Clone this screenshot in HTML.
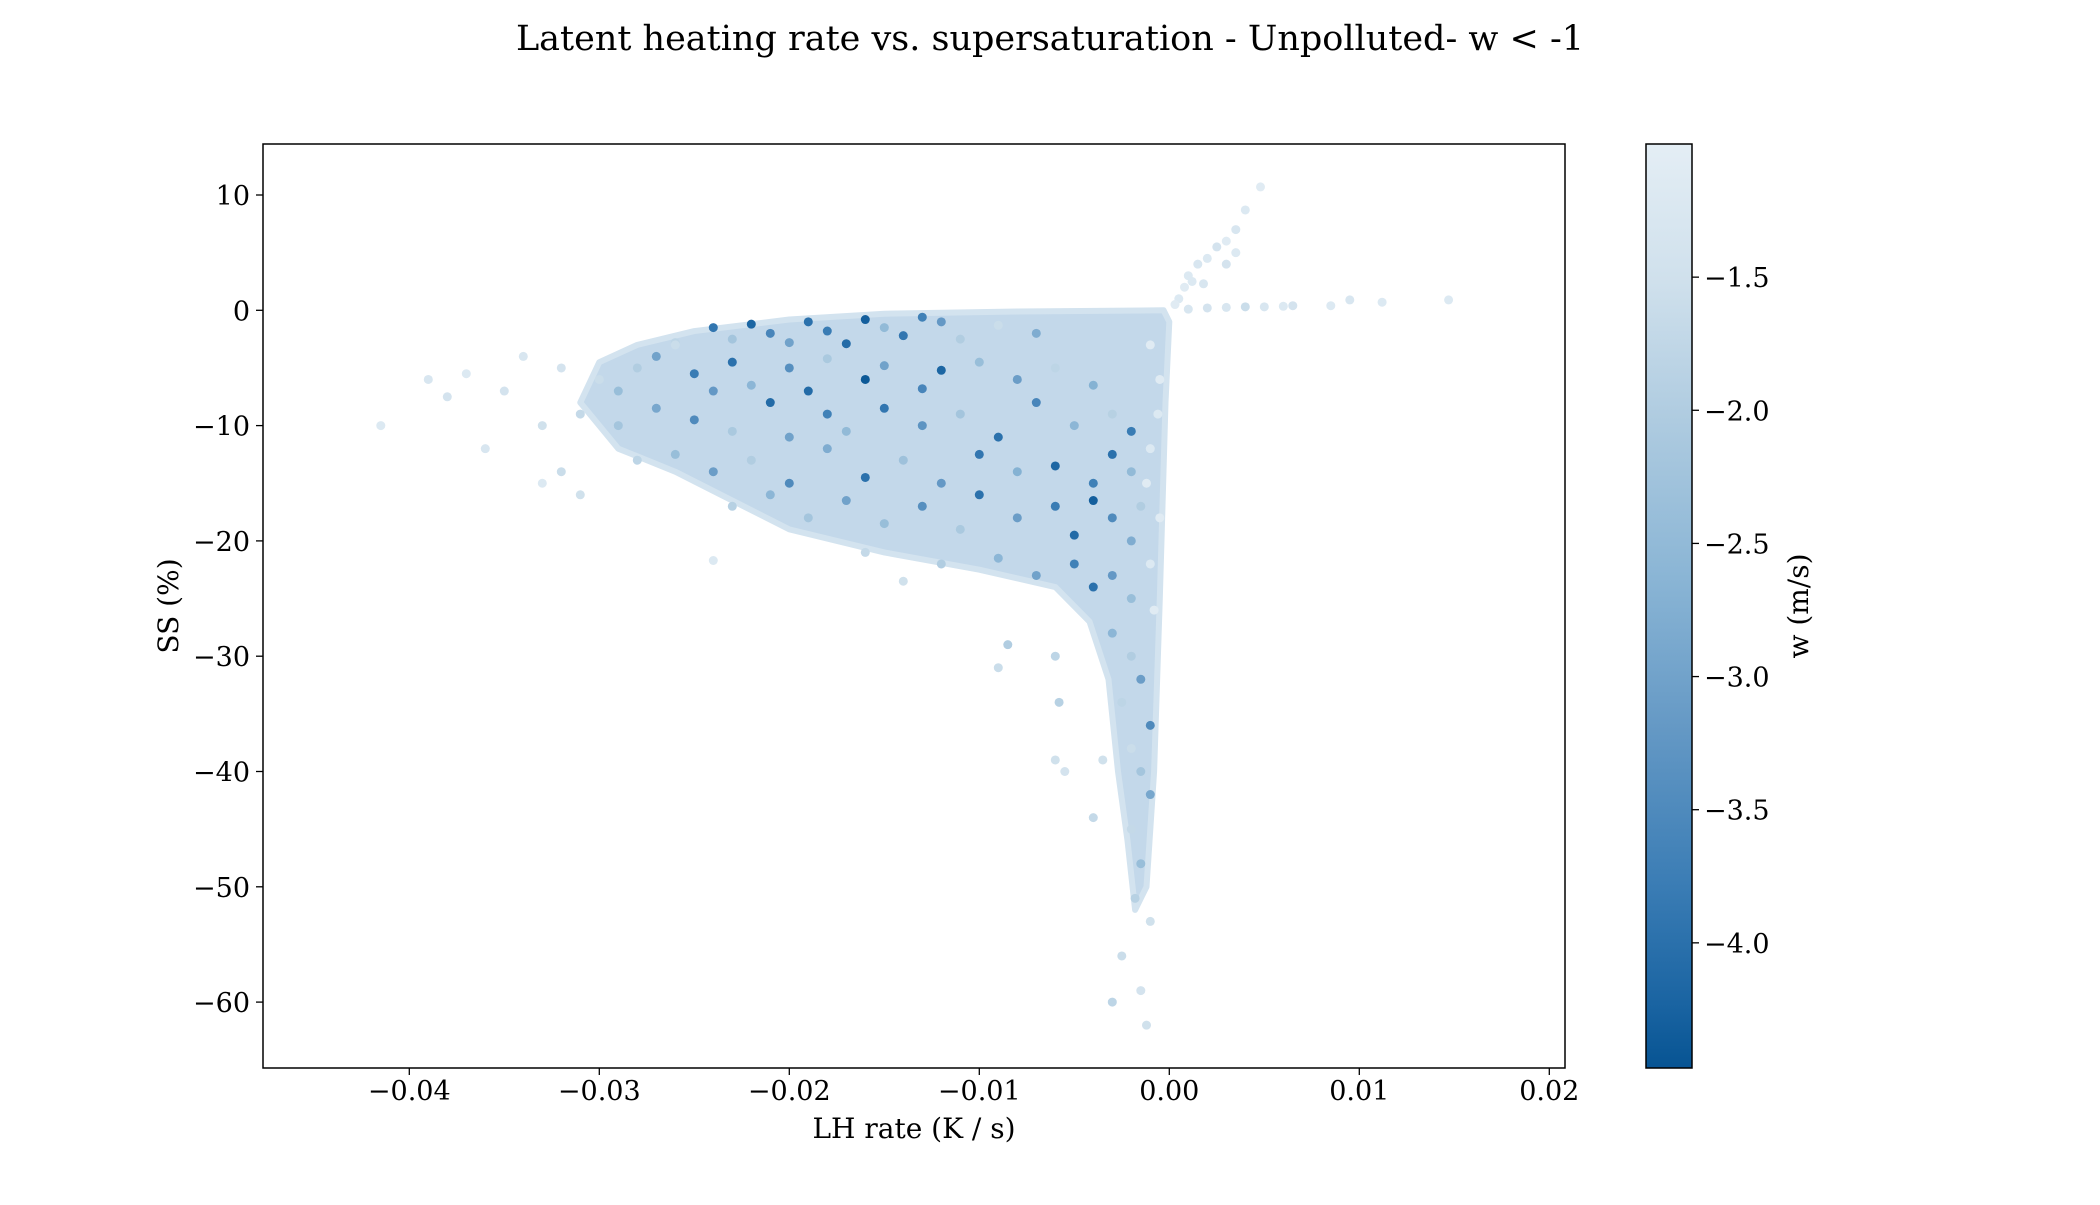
<!DOCTYPE html>
<html><head><meta charset="utf-8">
<style>
html,body{margin:0;padding:0;background:#fff;}
svg text{font-family:"DejaVu Serif","Liberation Serif",serif;fill:#000;}
</style></head>
<body>
<svg id="chart" width="2100" height="1200" viewBox="0 0 2100 1200" xmlns="http://www.w3.org/2000/svg">
<defs>
<linearGradient id="cmap" x1="0" y1="0" x2="0" y2="1">
<stop offset="0" stop-color="#e4eef5"/>
<stop offset="0.15" stop-color="#cfe0ec"/>
<stop offset="0.3" stop-color="#aecbe0"/>
<stop offset="0.47" stop-color="#8ab5d5"/>
<stop offset="0.63" stop-color="#6599c5"/>
<stop offset="0.8" stop-color="#3b7db5"/>
<stop offset="0.93" stop-color="#1a64a2"/>
<stop offset="1" stop-color="#075493"/>
</linearGradient>
<clipPath id="plotclip"><rect x="263" y="144" width="1302" height="924"/></clipPath>
</defs>
<text x="1050" y="50" font-size="35" text-anchor="middle">Latent heating rate vs. supersaturation - Unpolluted- w &lt; -1</text>
<g id="plot" clip-path="url(#plotclip)"></g>
<rect x="263" y="144" width="1302" height="924" fill="none" stroke="#000" stroke-width="1.5"/>
<g id="xticks"></g>
<g id="yticks"></g>
<text x="914" y="1138" font-size="28" text-anchor="middle">LH rate (K / s)</text>
<text transform="translate(178,606) rotate(-90)" font-size="28" text-anchor="middle">SS (%)</text>
<rect x="1646" y="144" width="46" height="924" fill="url(#cmap)" stroke="#000" stroke-width="1.5"/>
<g id="cticks"></g>
<text transform="translate(1808,606) rotate(-90)" font-size="28" text-anchor="middle">w (m/s)</text>
</svg>
<script>
const xTicks = [-0.04, -0.03, -0.02, -0.01, 0.00, 0.01, 0.02];
const xTickLabels = ["\u22120.04", "\u22120.03", "\u22120.02", "\u22120.01", "0.00", "0.01", "0.02"];
const yTicks = [10, 0, -10, -20, -30, -40, -50, -60];
const yTickLabels = ["10", "0", "\u221210", "\u221220", "\u221230", "\u221240", "\u221250", "\u221260"];
const cTicks = [-1.5, -2.0, -2.5, -3.0, -3.5, -4.0];
const cTickLabels = ["\u22121.5", "\u22122.0", "\u22122.5", "\u22123.0", "\u22123.5", "\u22124.0"];
const envelopeX = [-0.0003, -0.008, -0.015, -0.02, -0.025, -0.028, -0.030, -0.031, -0.029, -0.026, -0.023, -0.020, -0.015, -0.010, -0.006, -0.0042, -0.0032, -0.0027, -0.0022, -0.0018, -0.0012, -0.0008, -0.0005, -0.0002, 0.0];
const envelopeY = [0.0, -0.1, -0.3, -0.8, -1.8, -3.0, -4.5, -8.0, -12.0, -14.0, -16.5, -19.0, -21.0, -22.5, -24.0, -27.0, -32.0, -40.0, -46.0, -52.0, -50.0, -40.0, -25.0, -8.0, -1.0];
const lhRate = [
-0.024,-0.022,-0.021,-0.019,-0.018,-0.016,-0.015,-0.014,-0.012,-0.011,-0.009,-0.007,-0.020,-0.023,-0.026,-0.017,-0.013,
-0.028,-0.027,-0.025,-0.023,-0.022,-0.020,-0.019,-0.018,-0.016,-0.015,-0.013,-0.012,-0.010,-0.008,-0.006,-0.004,-0.030,-0.032,-0.029,-0.024,
-0.031,-0.029,-0.027,-0.025,-0.023,-0.021,-0.020,-0.018,-0.017,-0.015,-0.013,-0.011,-0.009,-0.007,-0.005,-0.003,-0.002,-0.033,
-0.028,-0.026,-0.024,-0.022,-0.020,-0.018,-0.016,-0.014,-0.012,-0.010,-0.008,-0.006,-0.004,-0.003,-0.002,-0.032,
-0.023,-0.021,-0.019,-0.017,-0.015,-0.013,-0.011,-0.010,-0.008,-0.006,-0.005,-0.004,-0.003,-0.002,-0.0015,
-0.016,-0.012,-0.009,-0.007,-0.005,-0.004,-0.003,-0.002,-0.024,-0.014,
-0.003,-0.002,-0.0015,-0.0025,-0.001,-0.002,-0.0015,-0.0035,-0.001,-0.002,-0.0015,-0.0018,-0.001,-0.0025,-0.003,-0.0015,-0.0012,-0.006,-0.0058,-0.0085,-0.009,-0.0055,-0.006,-0.004,
-0.0415,-0.039,-0.038,-0.037,-0.036,-0.035,-0.034,-0.033,-0.031,-0.026,
0.001,0.002,0.003,0.004,0.005,0.006,0.0065,0.0085,0.0095,0.0112,0.0147,
0.0005,0.0008,0.001,0.0015,0.002,0.0025,0.003,0.0035,0.004,0.0048,0.0003,0.0012,0.0018,0.003,0.0035,
-0.001,-0.0005,-0.001,-0.0005,-0.001,-0.0008,-0.0012,-0.0006
];
const ss = [
-1.5,-1.2,-2.0,-1.0,-1.8,-0.8,-1.5,-2.2,-1.0,-2.5,-1.3,-2.0,-2.8,-2.5,-2.8,-2.9,-0.6,
-5,-4,-5.5,-4.5,-6.5,-5,-7,-4.2,-6,-4.8,-6.8,-5.2,-4.5,-6,-5,-6.5,-6,-5,-7,-7,
-9,-10,-8.5,-9.5,-10.5,-8,-11,-9,-10.5,-8.5,-10,-9,-11,-8,-10,-9,-10.5,-10,
-13,-12.5,-14,-13,-15,-12,-14.5,-13,-15,-12.5,-14,-13.5,-15,-12.5,-14,-14,
-17,-16,-18,-16.5,-18.5,-17,-19,-16,-18,-17,-19.5,-16.5,-18,-20,-17,
-21,-22,-21.5,-23,-22,-24,-23,-25,-21.7,-23.5,
-28,-30,-32,-34,-36,-38,-40,-39,-42,-45,-48,-51,-53,-56,-60,-59,-62,-30,-34,-29,-31,-40,-39,-44,
-10,-6,-7.5,-5.5,-12,-7,-4,-15,-16,-3,
0.1,0.2,0.25,0.3,0.3,0.35,0.4,0.4,0.9,0.7,0.9,
1,2,3,4,4.5,5.5,6,7,8.7,10.7,0.5,2.5,2.3,4,5,
-3,-6,-12,-18,-22,-26,-15,-9
];
const wVal = [
-3.9,-4.2,-3.6,-4.0,-3.8,-4.3,-2.5,-3.9,-3.2,-2.0,-1.6,-2.8,-3.0,-2.2,-1.8,-4.1,-3.7,
-2.0,-3.0,-3.8,-4.0,-2.6,-3.4,-4.1,-2.1,-4.4,-3.0,-3.6,-4.2,-2.4,-3.1,-1.8,-2.7,-1.6,-1.4,-2.4,-3.2,
-1.7,-2.2,-2.9,-3.5,-2.1,-4.1,-3.0,-3.7,-2.5,-3.9,-3.3,-2.2,-4.0,-3.6,-2.6,-1.9,-3.8,-1.5,
-1.8,-2.4,-3.1,-2.0,-3.5,-2.8,-4.0,-2.3,-3.2,-3.9,-2.7,-4.2,-3.7,-4.0,-2.5,-1.6,
-1.9,-2.6,-2.2,-3.0,-2.4,-3.4,-2.1,-4.0,-3.1,-3.8,-4.1,-4.3,-3.5,-2.8,-2.0,
-1.7,-2.0,-2.6,-3.0,-3.7,-4.0,-3.2,-2.4,-1.2,-1.5,
-2.6,-2.0,-3.1,-1.8,-3.5,-1.6,-2.2,-1.5,-2.9,-1.7,-2.4,-1.9,-1.5,-1.6,-1.8,-1.4,-1.5,-1.8,-1.9,-2.0,-1.6,-1.4,-1.5,-1.7,
-1.2,-1.3,-1.4,-1.2,-1.3,-1.4,-1.3,-1.2,-1.5,-1.6,
-1.3,-1.4,-1.3,-1.6,-1.3,-1.2,-1.4,-1.2,-1.3,-1.2,-1.2,
-1.2,-1.1,-1.2,-1.3,-1.2,-1.4,-1.1,-1.3,-1.2,-1.1,-1.1,-1.2,-1.3,-1.4,-1.2,
-1.1,-1.1,-1.2,-1.1,-1.2,-1.1,-1.1,-1.2
];
const NS = "http://www.w3.org/2000/svg";
const X0 = 1169.3, XS = 19000;
const Y0 = 310.3, YS = 11.53;
const C_TOP = -1.0, C_BOT = -4.47, CB_TOP = 144, CB_H = 924;
function sx(v){ return X0 + v * XS; }
function sy(v){ return Y0 - v * YS; }
function cy(v){ return CB_TOP + (C_TOP - v) / (C_TOP - C_BOT) * CB_H; }
const stops = [[0,[228,238,245]],[0.15,[207,224,236]],[0.3,[174,203,224]],[0.47,[138,181,213]],[0.63,[101,153,197]],[0.8,[59,125,181]],[0.93,[26,100,162]],[1,[7,84,147]]];
function colorFor(w){
  let t = (C_TOP - w) / (C_TOP - C_BOT); t = Math.max(0, Math.min(1, t));
  for (let i = 1; i < stops.length; i++) {
    if (t <= stops[i][0]) {
      const a = stops[i-1], b = stops[i], f = (t - a[0]) / (b[0] - a[0]);
      const c = a[1].map((v, k) => Math.round(v + (b[1][k] - v) * f));
      return "rgb(" + c.join(",") + ")";
    }
  }
  return "rgb(7,84,147)";
}
const plot = document.getElementById("plot");
const env = document.createElementNS(NS, "polygon");


env.setAttribute("points", envelopeX.map((x, i) => sx(x) + "," + sy(envelopeY[i])).join(" "));
env.setAttribute("fill", "#c3d8ea");
env.setAttribute("stroke", "#d3e3ef");
env.setAttribute("stroke-width", "6");
env.setAttribute("stroke-linejoin", "round");
plot.appendChild(env);
for (let i = 0; i < lhRate.length; i++) {
  const c = document.createElementNS(NS, "circle");
  
  
  c.setAttribute("cx", sx(lhRate[i]));
  c.setAttribute("cy", sy(ss[i]));
  c.setAttribute("r", 4.5);
  c.setAttribute("fill", colorFor(wVal[i]));
  plot.appendChild(c);
}
const xg = document.getElementById("xticks");
xTicks.forEach((v, i) => {
  const l = document.createElementNS(NS, "line");
  
  
  l.setAttribute("x1", sx(v)); l.setAttribute("x2", sx(v));
  l.setAttribute("y1", 1068); l.setAttribute("y2", 1075);
  l.setAttribute("stroke", "#000"); l.setAttribute("stroke-width", "1.3");
  xg.appendChild(l);
  const t = document.createElementNS(NS, "text");
  
  
  t.setAttribute("x", sx(v)); t.setAttribute("y", 1100);
  t.setAttribute("font-size", "27"); t.setAttribute("text-anchor", "middle");
  t.textContent = xTickLabels[i];
  xg.appendChild(t);
});
const yg = document.getElementById("yticks");
yTicks.forEach((v, i) => {
  const l = document.createElementNS(NS, "line");
  
  
  l.setAttribute("x1", 256); l.setAttribute("x2", 263);
  l.setAttribute("y1", sy(v)); l.setAttribute("y2", sy(v));
  l.setAttribute("stroke", "#000"); l.setAttribute("stroke-width", "1.3");
  yg.appendChild(l);
  const t = document.createElementNS(NS, "text");
  
  
  t.setAttribute("x", 250); t.setAttribute("y", sy(v) + 10);
  t.setAttribute("font-size", "27"); t.setAttribute("text-anchor", "end");
  t.textContent = yTickLabels[i];
  yg.appendChild(t);
});
const cg = document.getElementById("cticks");
cTicks.forEach((v, i) => {
  const l = document.createElementNS(NS, "line");
  
  
  l.setAttribute("x1", 1692); l.setAttribute("x2", 1699);
  l.setAttribute("y1", cy(v)); l.setAttribute("y2", cy(v));
  l.setAttribute("stroke", "#000"); l.setAttribute("stroke-width", "1.3");
  cg.appendChild(l);
  const t = document.createElementNS(NS, "text");
  
  
  t.setAttribute("x", 1704); t.setAttribute("y", cy(v) + 10);
  t.setAttribute("font-size", "27");
  t.textContent = cTickLabels[i];
  cg.appendChild(t);
});
</script>
</body></html>
